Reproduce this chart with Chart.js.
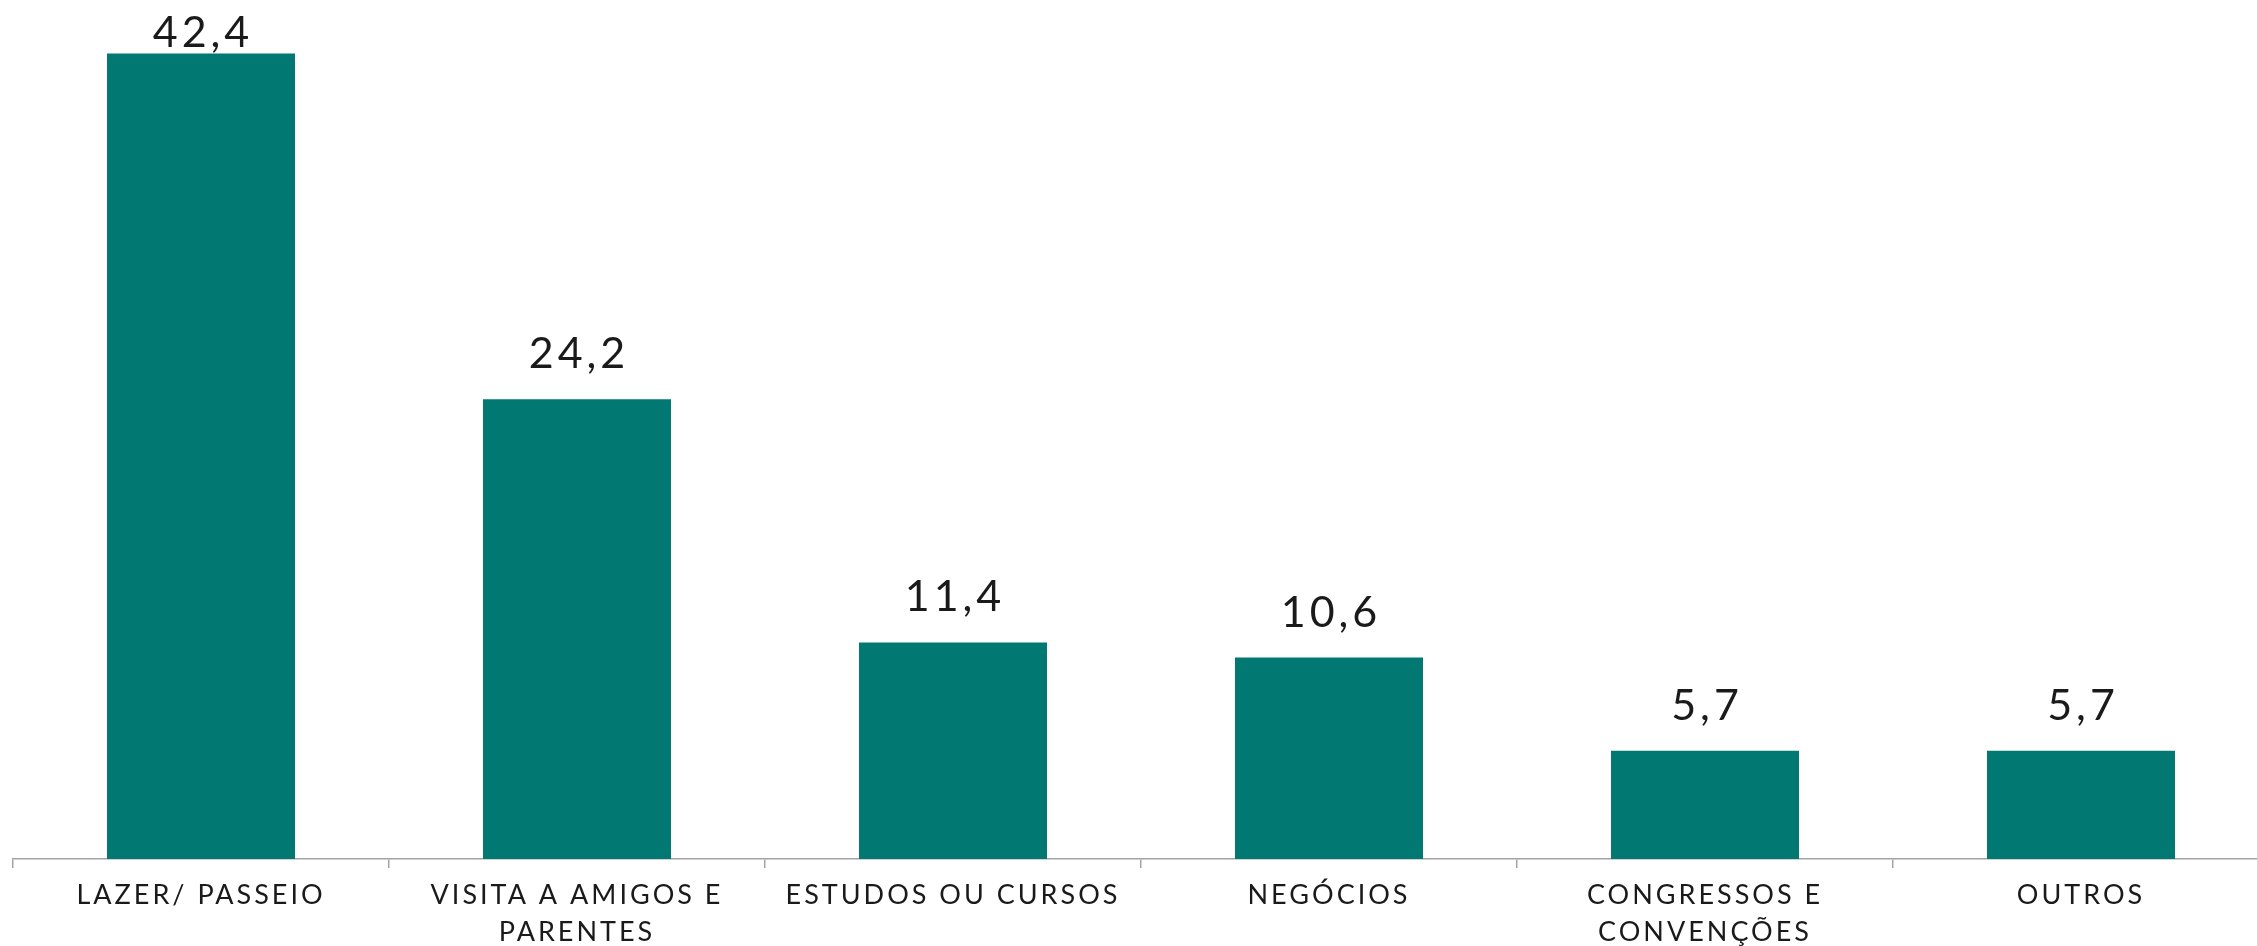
<!DOCTYPE html>
<html>
<head>
<meta charset="utf-8">
<script src="https://cdn.jsdelivr.net/npm/chart.js@4/dist/chart.umd.min.js"></script>
<style>
  html, body { margin: 0; padding: 0; background: #fff; overflow: hidden; }
  #wrap { width: 2270px; height: 946px; }
</style>
</head>
<body>
<div id="wrap"><canvas id="chart"></canvas></div>
<script>
const categories = [
    'LAZER/ PASSEIO',
    ['VISITA A AMIGOS E', 'PARENTES'],
    'ESTUDOS OU CURSOS',
    'NEGÓCIOS',
    ['CONGRESSOS E', 'CONVENÇÕES'],
    'OUTROS'
];
const values = [42.4, 24.2, 11.4, 10.6, 5.7, 5.7];

const barColor = '#017872';

// value labels above each bar, decimal comma
const valueLabels = {
    id: 'valueLabels',
    afterDatasetsDraw(chart) {
        const ctx = chart.ctx;
        const meta = chart.getDatasetMeta(0);
        ctx.save();
        ctx.font = '43px Lato';
        ctx.letterSpacing = '4px';
        ctx.fillStyle = '#1a1a1a';
        ctx.textAlign = 'center';
        ctx.textBaseline = 'alphabetic';
        meta.data.forEach((bar, i) => {
            const txt = values[i].toFixed(1).replace('.', ',');
            const y = Math.max(bar.y - 31, 47);
            ctx.fillText(txt, bar.x + 2, y);
        });
        ctx.restore();
    }
};

// spaced-out axis labels
const spacing = {
    id: 'spacing',
    beforeDraw(chart) { chart.ctx.letterSpacing = '3px'; }
};

new Chart(document.getElementById('chart'), {
    type: 'bar',
    data: {
        labels: categories,
        datasets: [{
            data: values,
            backgroundColor: barColor,
            barPercentage: 0.5,
            categoryPercentage: 1.0
        }]
    },
    options: {
        responsive: true,
        maintainAspectRatio: false,
        animation: false,
        layout: { padding: { left: 13, right: 1, top: 4, bottom: 0 } },
        plugins: { legend: { display: false }, tooltip: { enabled: false } },
        scales: {
            x: {
                offset: true,
                afterFit: (s) => { s.height = 87; },
                border: { display: true, color: '#a3a3a3', width: 1.5 },
                grid: { display: true, drawOnChartArea: false, offset: true, tickLength: 9, color: '#a3a3a3', lineWidth: 1.5 },
                ticks: {
                    color: '#1a1a1a',
                    padding: 9,
                    maxRotation: 0,
                    autoSkip: false,
                    font: { family: 'Lato', size: 27, lineHeight: 1.37 }
                }
            },
            y: {
                display: false,
                min: 0,
                max: 45
            }
        }
    },
    plugins: [spacing, valueLabels]
});
</script>
</body>
</html>
